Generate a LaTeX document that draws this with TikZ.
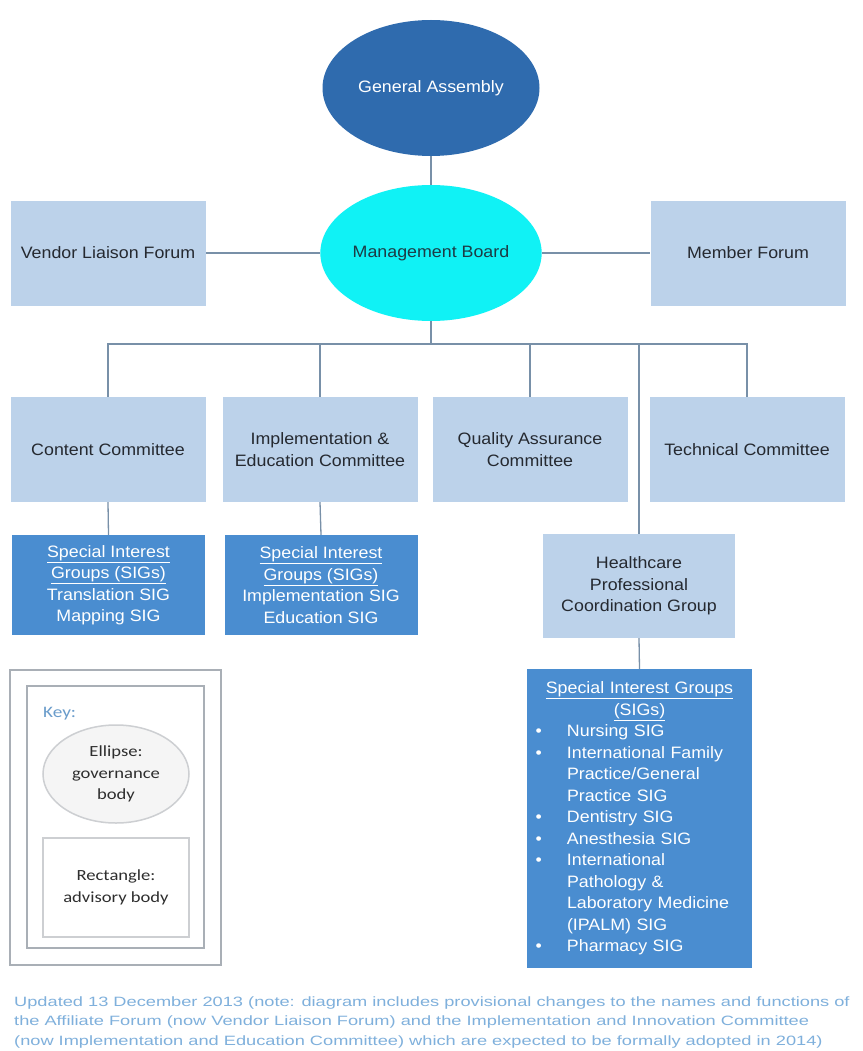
\documentclass[tikz,border=0pt]{standalone}
\usepackage{fontspec}
\setmainfont{Liberation Sans}[FakeStretch=1.08]
\newfontfamily\notefont{Liberation Sans}[FakeStretch=1.35]
\newfontfamily\keyfont{Carlito}[FakeStretch=1.2]
\usetikzlibrary{shapes.geometric}

\definecolor{gafill}{HTML}{2F6BAE}
\definecolor{mbfill}{HTML}{10F2F5}
\definecolor{boxfill}{HTML}{BCD2EA}
\definecolor{sigfill}{HTML}{4A8DD0}
\definecolor{linecol}{HTML}{7890A8}
\definecolor{textdark}{HTML}{252930}
\definecolor{mbtext}{HTML}{1C3B45}
\definecolor{notecol}{HTML}{7FB0DC}
\definecolor{keyblue}{HTML}{6A9CCB}
\definecolor{keyframecol}{HTML}{A9AFB6}
\definecolor{keyshapecol}{HTML}{CDCFD2}
\definecolor{keytext}{HTML}{2E2E2E}

% bullet and continuation indents for the SIG list
\newcommand\sigitem{\hspace*{3.5pt}\makebox[31.5pt][l]{\textbullet}}
\newcommand\sigcont{\hspace*{35pt}}

\begin{document}
\begin{tikzpicture}[x=1pt,y=-1pt,
  body/.style={font=\fontsize{16.5}{21.5}\selectfont, align=center, inner sep=0pt},
  lightbox/.style={body, rectangle, fill=boxfill, text=textdark,
    minimum width=195pt, minimum height=105pt},
  sigbox/.style={body, rectangle, fill=sigfill, text=white},
  govern/.style={body, ellipse, minimum width=217pt, minimum height=136pt},
  link/.style={draw=linecol, line width=1.3pt},
  keyframe/.style={draw=keyframecol, line width=2pt, rectangle, inner sep=0pt},
  keyshape/.style={draw=keyshapecol, line width=1.5pt,
    font=\keyfont\fontsize{15.5}{21.5}\selectfont, text=keytext, align=center, inner sep=0pt},
  note/.style={font=\notefont\fontsize{13.5}{19.2}\selectfont, text=notecol,
    anchor=base west, inner sep=0pt}
]
\fill[white] (0,0) rectangle (862,1051);
\useasboundingbox (0,0) rectangle (862,1051);

% governance bodies
\node[govern, fill=gafill, text=white] (ga) at (431,88) {General Assembly};
\node[govern, fill=mbfill, text=mbtext] (mb) at (431,253) {Management Board};

% forums beside the board
\node[lightbox] (vendor) at (108,253) {Vendor Liaison Forum};
\node[lightbox] (member) at (748,253) {Member Forum};

% committees
\node[lightbox] (content) at (108,449.5) {Content Committee};
\node[lightbox] (impl) at (320,449.5) {Implementation \&\\Education Committee};
\node[lightbox] (qa) at (530,449.5) {Quality Assurance\\Committee};
\node[lightbox] (tech) at (747,449.5) {Technical Committee};

% special interest groups under the committees
\node[sigbox, minimum width=193pt, minimum height=100pt] (contentsig) at (108.5,585)
  {\underline{Special Interest}\\\underline{Groups (SIGs)}\\Translation SIG\\Mapping SIG};
\node[sigbox, minimum width=193pt, minimum height=100pt] (implsig) at (321,585)
  {\underline{Special Interest}\\\underline{Groups (SIGs)}\\Implementation SIG\\Education SIG};

% healthcare professional group and its SIGs
\node[lightbox, minimum width=192pt, minimum height=104pt] (hc) at (639,586)
  {Healthcare\\Professional\\Coordination Group};
\node[sigbox, minimum width=225pt, minimum height=299pt, text width=215pt, align=left]
  (hcsig) at (639.5,818.5)
  {\makebox[215pt][c]{\underline{Special Interest Groups}}\\
   \makebox[215pt][c]{\underline{(SIGs)}}\\
   \sigitem Nursing SIG\\
   \sigitem International Family\\
   \sigcont Practice/General\\
   \sigcont Practice SIG\\
   \sigitem Dentistry SIG\\
   \sigitem Anesthesia SIG\\
   \sigitem International\\
   \sigcont Pathology \&\\
   \sigcont Laboratory Medicine\\
   \sigcont (IPALM) SIG\\
   \sigitem Pharmacy SIG};

% connectors
\coordinate (bus) at (431,344);
\draw[link] (ga.south) -- (mb.north);
\draw[link] (mb.west) -- (vendor.east);
\draw[link] (mb.east) -- (member.west);
\draw[link] (mb.south) -- (bus);
\draw[link] (content.north) -- (content.north |- bus) -- (tech.north |- bus) -- (tech.north);
\draw[link] (impl.north) -- (impl.north |- bus);
\draw[link] (qa.north) -- (qa.north |- bus);
\draw[link] (hc.north) -- (hc.north |- bus);
\draw[link] (content.south) -- (contentsig.north);
\draw[link] (impl.south) -- (implsig.north);
\draw[link] (hc.south) -- (hcsig.north);

% key
\node[keyframe, minimum width=211pt, minimum height=295pt] (keyouter) at (115.5,817.5) {};
\node[keyframe, minimum width=177pt, minimum height=262pt] (keyinner) at (115.5,817) {};
\node[anchor=base west, inner sep=0pt, text=keyblue,
  font=\keyfont\fontsize{16}{20}\selectfont] (keytitle) at (43,717) {Key:};
\node[keyshape, ellipse, fill=white!96!black, minimum width=146pt, minimum height=98pt]
  (keyell) at (116,774) {Ellipse:\\governance\\body};
\node[keyshape, rectangle, fill=white, minimum width=146pt, minimum height=99pt]
  (keyrect) at (116,887.5) {Rectangle:\\advisory body};

% note below the chart
\node[note] (note1) at (14,1006.7)
  {Updated 13 December 2013 (note: diagram includes provisional changes to the names and functions of};
\node[note] (note2) at (14,1025.9)
  {the Affiliate Forum (now Vendor Liaison Forum) and the Implementation and Innovation Committee};
\node[note] (note3) at (14,1045.1)
  {(now Implementation and Education Committee) which are expected to be formally adopted in 2014)};
\end{tikzpicture}
\end{document}
